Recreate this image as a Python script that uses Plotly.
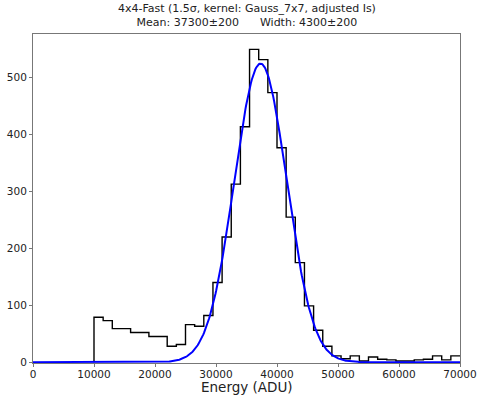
import numpy as np
import plotly.graph_objects as go

# Histogram binning: 40 bins of 1500 ADU between 10000 and 70000
bin_start = 10000
bin_width = 1500
counts = [79, 73, 59, 59, 52, 52, 45, 45, 28, 31,
          66, 63, 82, 140, 220, 313, 414, 550, 532, 474,
          377, 255, 175, 99, 56, 28, 11, 6, 11, 2,
          9, 5, 4, 2, 2, 4, 5, 11, 4, 11]

# Gaussian fit result
fit_mean = 37300
fit_width = 4300
fit_amp = 525

x_ticks = [0, 10000, 20000, 30000, 40000, 50000, 60000, 70000]
y_ticks = [0, 100, 200, 300, 400, 500]

title_lines = ["4x4-Fast (1.5σ, kernel: Gauss_7x7, adjusted Is)",
               "Mean: 37300±200      Width: 4300±200"]
x_label = "Energy (ADU)"

edges = bin_start + bin_width * np.arange(len(counts) + 1)
step_x = np.concatenate([[edges[0]], edges])
step_y = np.concatenate([[0], counts, [counts[-1]]])

fit_x = np.linspace(0, 70000, 600)
fit_y = fit_amp * np.exp(-0.5 * ((fit_x - fit_mean) / fit_width) ** 2)

fig = go.Figure()
fig.add_trace(go.Scatter(x=step_x, y=step_y, mode="lines", line_shape="hv",
                         line=dict(color="black", width=1.4), showlegend=False))
fig.add_trace(go.Scatter(x=fit_x, y=fit_y, mode="lines",
                         line=dict(color="#0000ff", width=2), showlegend=False))

axis_common = dict(showline=True, mirror=True, linecolor="#777", linewidth=1,
                   ticks="outside", ticklen=3, tickcolor="#777", showgrid=False,
                   zeroline=False, automargin=False,
                   tickfont=dict(family="DejaVu Sans", size=10.5, color="#222"))

font_main = dict(family="DejaVu Sans", size=11, color="#222")

fig.update_layout(
    width=479, height=396,
    margin=dict(l=33, r=19, t=34, b=32.5),
    plot_bgcolor="white", paper_bgcolor="white",
    xaxis=dict(range=[0, 70000], tickvals=x_ticks, ticktext=[str(v) for v in x_ticks],
               ticklabelstandoff=-2, **axis_common),
    yaxis=dict(range=[-1.5, 577], tickvals=y_ticks, ticktext=[str(v) for v in y_ticks],
               **axis_common),
    annotations=[
        dict(text="<br>".join(title_lines), xref="paper", yref="paper",
             x=0.5, y=1, xanchor="center", yanchor="bottom", yshift=3,
             showarrow=False, align="center", font=font_main),
        dict(text=x_label, xref="paper", yref="paper",
             x=0.5, y=0, xanchor="center", yanchor="top", yshift=-15,
             showarrow=False, borderpad=0,
             font=dict(family="DejaVu Sans", size=13.5, color="#222")),
    ],
)

fig.write_html("out.html")
